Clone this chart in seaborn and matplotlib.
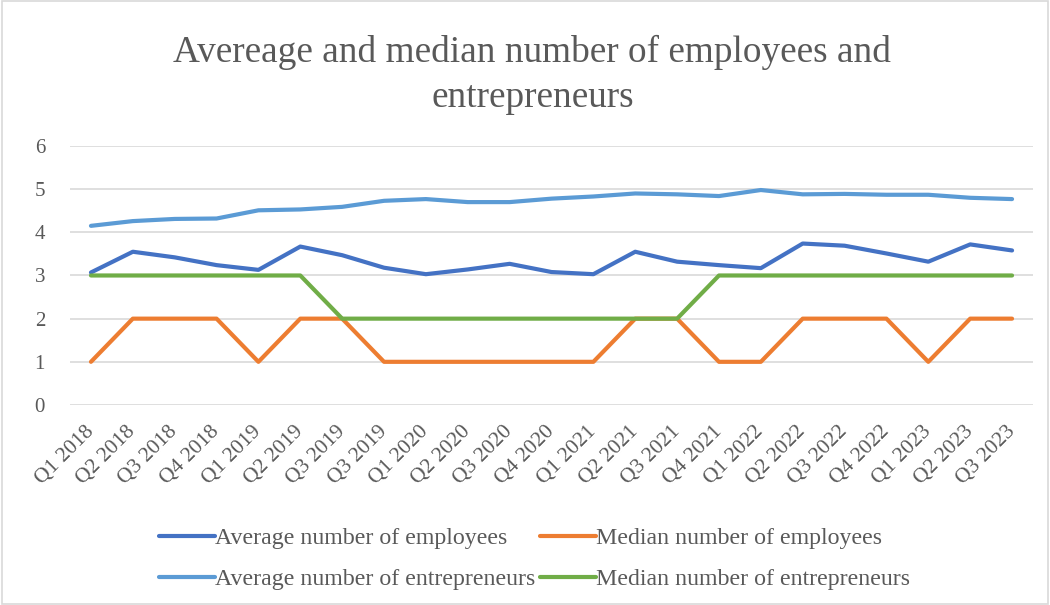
import numpy as np
import pandas as pd
import matplotlib
matplotlib.use("Agg")
import matplotlib.pyplot as plt
import seaborn as sns
from matplotlib.patches import Rectangle

# Quarterly labels as they appear on the axis
quarters = [
    "Q1 2018", "Q2 2018", "Q3 2018", "Q4 2018",
    "Q1 2019", "Q2 2019", "Q3 2019", "Q3 2019",
    "Q1 2020", "Q2 2020", "Q3 2020", "Q4 2020",
    "Q1 2021", "Q2 2021", "Q3 2021", "Q4 2021",
    "Q1 2022", "Q2 2022", "Q3 2022", "Q4 2022",
    "Q1 2023", "Q2 2023", "Q3 2023",
]

avg_employees = [3.07, 3.55, 3.42, 3.24, 3.13, 3.67, 3.47, 3.18, 3.03, 3.14, 3.27, 3.08,
                 3.03, 3.55, 3.32, 3.24, 3.17, 3.74, 3.69, 3.51, 3.32, 3.72, 3.58]
median_employees = [1, 2, 2, 2, 1, 2, 2, 1, 1, 1, 1, 1,
                    1, 2, 2, 1, 1, 2, 2, 2, 1, 2, 2]
avg_entrepreneurs = [4.15, 4.26, 4.31, 4.32, 4.51, 4.53, 4.59, 4.73, 4.77, 4.70, 4.70, 4.78,
                     4.83, 4.90, 4.88, 4.84, 4.98, 4.88, 4.89, 4.87, 4.87, 4.80, 4.77]
median_entrepreneurs = [3, 3, 3, 3, 3, 3, 2, 2, 2, 2, 2, 2,
                        2, 2, 2, 3, 3, 3, 3, 3, 3, 3, 3]

series_names = [
    "Average number of employees",
    "Median number of employees",
    "Average number of entrepreneurs",
    "Median number of entrepreneurs",
]
series_values = [avg_employees, median_employees, avg_entrepreneurs, median_entrepreneurs]
series_colors = ["#4472C4", "#ED7D31", "#5B9BD5", "#70AD47"]

sns.set_theme(style="white")
plt.rcParams["font.family"] = ["Liberation Serif", "DejaVu Serif"]
text_color = "#595959"

n = len(quarters)
idx = np.arange(n)
frames = []
for name, vals in zip(series_names, series_values):
    frames.append(pd.DataFrame({"pos": idx, "value": vals, "series": name}))
df = pd.concat(frames, ignore_index=True)

fig = plt.figure(figsize=(10.5, 6.05), dpi=100)
ax = fig.add_axes([0.0667, 0.3306, 0.9171, 0.4281])

sns.lineplot(
    data=df, x="pos", y="value", hue="series", hue_order=series_names,
    palette=dict(zip(series_names, series_colors)), linewidth=3.0,
    ax=ax, legend=False, sort=False,
)
for ln in ax.get_lines():
    ln.set_solid_capstyle("round")
    ln.set_solid_joinstyle("round")

ax.set_xlim(-0.5, n - 0.5)
ax.set_ylim(0, 6)
ax.set_yticks(range(0, 7))
ax.set_xticks(idx)
ax.set_xticklabels(quarters, rotation=45, ha="right", va="center",
                   rotation_mode="anchor", fontsize=15.5, color=text_color)
ax.tick_params(axis="x", length=0, pad=17)
ax.tick_params(axis="y", length=0, pad=18, labelsize=15, labelcolor=text_color)
ax.yaxis.grid(True, color="#D9D9D9", linewidth=1.2)
ax.xaxis.grid(False)
ax.set_axisbelow(True)
for s in ax.spines.values():
    s.set_visible(False)
ax.set_xlabel("")
ax.set_ylabel("")

fig.text(0.507, 0.876, "Avereage and median number of employees and\nentrepreneurs",
         ha="center", va="center", fontsize=26.8, color=text_color, linespacing=1.38)

handles = [plt.Line2D([], [], color=c, linewidth=3.0, solid_capstyle="round")
           for c in series_colors]
order = [0, 2, 1, 3]
fig.legend([handles[i] for i in order], [series_names[i] for i in order],
           loc="center", bbox_to_anchor=(0.509, 0.076), ncol=2, frameon=False,
           fontsize=17.2, labelcolor=text_color, handlelength=2.35, handletextpad=0.0,
           columnspacing=0.2, labelspacing=0.8)

fig.patches.append(Rectangle((0.002, 0.002), 0.996, 0.996, transform=fig.transFigure,
                             fill=False, edgecolor="#D9D9D9", linewidth=1.2))

fig.savefig("out.png", dpi=100, facecolor="white")
